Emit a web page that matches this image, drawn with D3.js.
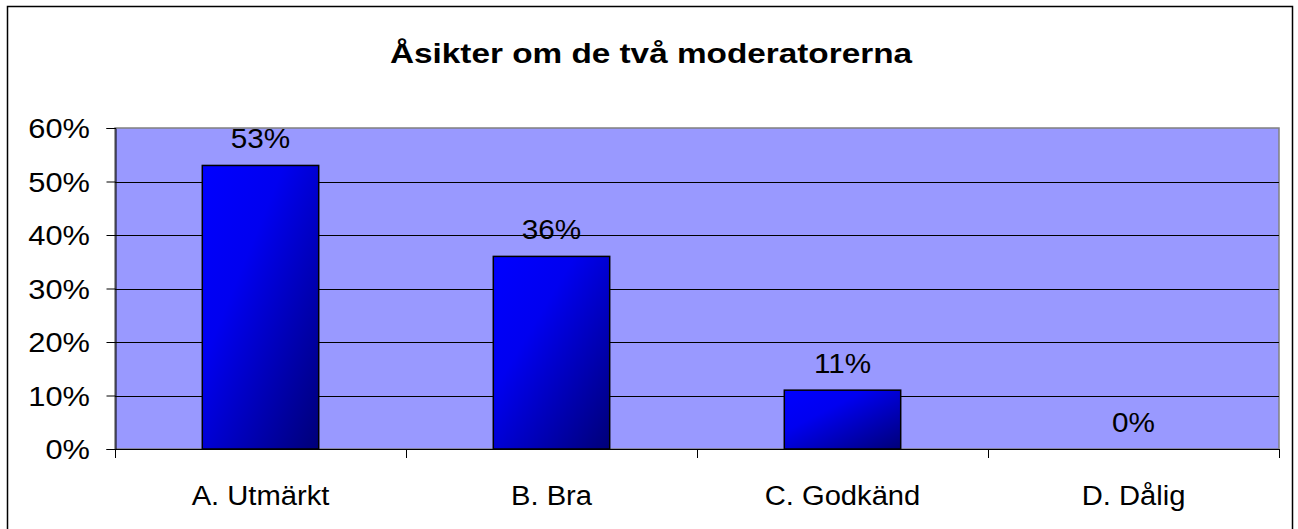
<!DOCTYPE html>
<html>
<head>
<meta charset="utf-8">
<script src="https://cdn.jsdelivr.net/npm/d3@7"></script>
<style>
  body { margin: 0; background: #fff; }
  text { font-family: "Liberation Sans", Arial, sans-serif; fill: #000; }
</style>
</head>
<body>
<div id="container"></div>
<script>
/* DATA */
const categories = ["A. Utmärkt", "B. Bra", "C. Godkänd", "D. Dålig"]
const values = [53, 36, 11, 0]
const yTicks = [0, 10, 20, 30, 40, 50, 60]
const title = "Åsikter om de två moderatorerna"

/* LAYOUT */
const width = 1298, height = 529
const margin = { top: 128, left: 115, right: 1279, bottom: 449 }

const svg = d3.select("#container")
  .append("svg")
  .attr("width", width)
  .attr("height", height)

// bar gradient
const grad = svg.append("defs").append("linearGradient")
  .attr("id", "barGrad")
  .attr("x1", "0%").attr("y1", "0%")
  .attr("x2", "100%").attr("y2", "100%")
grad.append("stop").attr("offset", "0%").attr("stop-color", "#0000ff")
grad.append("stop").attr("offset", "35%").attr("stop-color", "#0000f0")
grad.append("stop").attr("offset", "100%").attr("stop-color", "#000078")

// outer chart border
svg.append("rect")
  .attr("x", 7.5).attr("y", 6.5)
  .attr("width", 1285).attr("height", 540)
  .attr("fill", "#fff")
  .attr("stroke", "#000")
  .attr("stroke-width", 1.5)

const xScale = d3.scaleBand()
  .domain(categories)
  .range([margin.left, margin.right])
  .paddingInner(0.6)
  .paddingOuter(0.3)

const xBoundary = d3.scaleLinear()
  .domain([0, categories.length])
  .range([margin.left, margin.right])

const yScale = d3.scaleLinear()
  .domain([0, 60])
  .range([margin.bottom, margin.top])

// plot area
svg.append("rect")
  .attr("x", margin.left).attr("y", margin.top)
  .attr("width", margin.right - margin.left)
  .attr("height", margin.bottom - margin.top)
  .attr("fill", "#9999ff")
  .attr("stroke", "#808080")
  .attr("stroke-width", 1.5)

// gridlines
svg.selectAll("line.grid")
  .data(yTicks.filter(d => d > 0 && d < 60))
  .join("line")
  .attr("class", "grid")
  .attr("x1", margin.left).attr("x2", margin.right)
  .attr("y1", d => Math.round(yScale(d)) + 0.5)
  .attr("y2", d => Math.round(yScale(d)) + 0.5)
  .attr("stroke", "#000")

// bars
svg.selectAll("rect.bar")
  .data(values)
  .join("rect")
  .attr("class", "bar")
  .attr("x", (d, i) => xScale(categories[i]))
  .attr("y", d => yScale(d))
  .attr("width", xScale.bandwidth())
  .attr("height", d => yScale(0) - yScale(d))
  .attr("fill", "url(#barGrad)")
  .attr("stroke", "#000")
  .attr("stroke-width", 1.5)

// y axis
const yAxis = svg.append("g")
  .attr("transform", `translate(${margin.left + 0.5},0)`)
  .call(d3.axisLeft(yScale).tickValues(yTicks).tickSize(9).tickPadding(0).tickFormat(d => ""))
yAxis.select(".domain").attr("stroke", "#000")
yAxis.selectAll(".tick line").attr("stroke", "#000")

svg.selectAll("text.ytick")
  .data(yTicks)
  .join("text")
  .attr("class", "ytick")
  .attr("text-anchor", "end")
  .attr("font-size", 28)
  .attr("transform", d => `translate(90,${yScale(d) + 10}) scale(1.1,1)`)
  .text(d => d + "%")

// x axis
svg.append("line")
  .attr("x1", margin.left).attr("x2", margin.right)
  .attr("y1", margin.bottom + 0.5).attr("y2", margin.bottom + 0.5)
  .attr("stroke", "#000")
svg.selectAll("line.xtick")
  .data(d3.range(categories.length + 1))
  .join("line")
  .attr("class", "xtick")
  .attr("x1", d => Math.round(xBoundary(d)) + 0.5)
  .attr("x2", d => Math.round(xBoundary(d)) + 0.5)
  .attr("y1", margin.bottom)
  .attr("y2", margin.bottom + 9)
  .attr("stroke", "#000")

svg.selectAll("text.xlabel")
  .data(categories)
  .join("text")
  .attr("class", "xlabel")
  .attr("text-anchor", "middle")
  .attr("font-size", 27)
  .attr("transform", d => `translate(${xScale(d) + xScale.bandwidth() / 2},505) scale(1.08,1)`)
  .text(d => d)

// data labels
svg.selectAll("text.value")
  .data(values)
  .join("text")
  .attr("class", "value")
  .attr("text-anchor", "middle")
  .attr("font-size", 27)
  .attr("transform", (d, i) => `translate(${xScale(categories[i]) + xScale.bandwidth() / 2},${yScale(d) - 17}) scale(1.1,1)`)
  .text(d => d + "%")

// title
svg.append("text")
  .attr("text-anchor", "middle")
  .attr("font-size", 28)
  .attr("font-weight", "bold")
  .attr("transform", `translate(651,63) scale(1.19,1)`)
  .text(title)
</script>
</body>
</html>
